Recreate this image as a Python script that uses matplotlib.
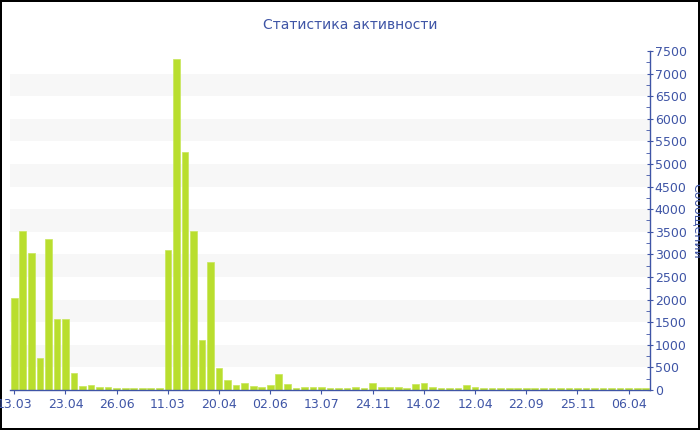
import numpy as np
import matplotlib.pyplot as plt
from matplotlib.ticker import MultipleLocator

# message counts per period
counts = [2030, 3520, 3020, 700, 3340, 1560, 1560, 375, 80, 110,
          75, 70, 50, 40, 50, 35, 35, 45, 3100, 7330,
          5260, 3520, 1100, 2840, 490, 230, 120, 145, 85, 60,
          120, 365, 125, 45, 75, 60, 75, 40, 35, 35,
          75, 35, 165, 60, 60, 60, 45, 135, 165, 60,
          45, 45, 45, 100, 65, 45, 45, 45, 40, 35,
          35, 40, 40, 40, 40, 40, 55, 40, 45, 40,
          40, 40, 35, 35, 35]
tick_labels = ['13.03', '23.04', '26.06', '11.03', '20.04', '02.06', '13.07',
               '24.11', '14.02', '12.04', '22.09', '25.11', '06.04']

text_color = '#3f55a6'
bar_color = '#b9de2e'

fig = plt.figure(figsize=(7, 4.3), dpi=100, edgecolor='black', linewidth=1.5)
ax = fig.add_axes([10 / 700, 1 - 390 / 430, 640 / 700, 339 / 430])

x = np.arange(len(counts))
ax.bar(x, counts, width=0.78, color=bar_color, edgecolor='#c8e65a', linewidth=0.5, zorder=2)

# alternating light bands
for lo in range(500, 7500, 1000):
    ax.axhspan(lo, lo + 500, color='#f7f7f7', zorder=0, linewidth=0)

ax.set_xlim(-0.5, len(counts) - 0.5)
ax.set_ylim(0, 7500)

ax.set_xticks(x[::6])
ax.set_xticklabels(tick_labels)
ax.yaxis.tick_right()
ax.yaxis.set_label_position('right')
ax.yaxis.set_major_locator(MultipleLocator(500))
ax.yaxis.set_minor_locator(MultipleLocator(250))

for s in ['top', 'left']:
    ax.spines[s].set_visible(False)
for s in ['right', 'bottom']:
    ax.spines[s].set_color(text_color)
    ax.spines[s].set_linewidth(1)

ax.tick_params(axis='both', colors=text_color, labelsize=9)
ax.tick_params(axis='y', which='major', direction='inout', length=5, pad=1)
ax.tick_params(axis='y', which='minor', direction='in', length=3, color=text_color)
ax.tick_params(axis='x', direction='out', length=3, pad=3)

ax.set_ylabel('Сообщений', color=text_color, fontsize=9, rotation=270, labelpad=12)

fig.text(0.5, 1 - 25 / 430, 'Статистика активности', ha='center', va='center',
         color=text_color, fontsize=10)

fig.savefig('out.png', dpi=100)
